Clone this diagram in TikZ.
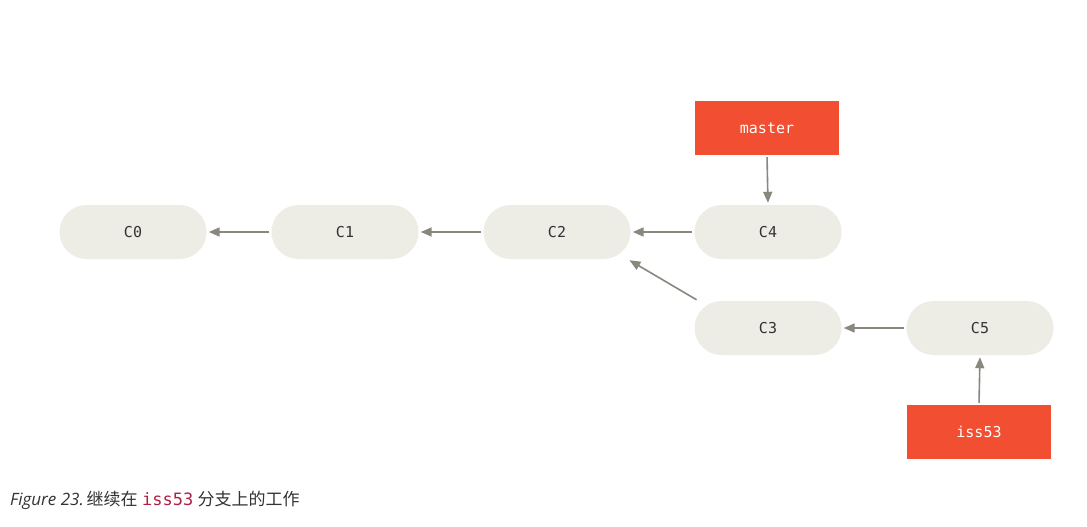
\documentclass[tikz,border=0pt]{standalone}
\usepackage{fontspec}
\setmainfont{Open Sans}
\setmonofont{DejaVu Sans Mono}
\newfontfamily\cjk{Noto Sans CJK SC}
\usetikzlibrary{arrows.meta}
\definecolor{nodefill}{HTML}{EDEDE6}
\definecolor{branchred}{HTML}{F14E32}
\definecolor{arrowgrey}{HTML}{8A877E}
\definecolor{codered}{HTML}{B12146}
\begin{document}
\begin{tikzpicture}[x=1pt,y=-1pt,
  commit/.style={fill=nodefill,rounded corners=27pt,minimum width=147pt,minimum height=54pt,inner sep=0pt,font=\ttfamily\fontsize{15}{18}\selectfont,text=black!80},
  branch/.style={fill=branchred,minimum width=144pt,minimum height=54pt,inner sep=0pt,font=\ttfamily\fontsize{15}{18}\selectfont,text=white},
  link/.style={draw=arrowgrey,line width=1.6pt,-{Triangle[length=11pt,width=9pt]},shorten >=2pt,shorten <=2pt}]
\useasboundingbox[fill=white] (0,0) rectangle (1087,527);
\node[commit] (c0) at (133,232) {C0};
\node[commit] (c1) at (345,232) {C1};
\node[commit] (c2) at (557,232) {C2};
\node[commit] (c4) at (768,232) {C4};
\node[commit] (c3) at (768,328) {C3};
\node[commit] (c5) at (980,328) {C5};
\node[branch] (master) at (767,128) {master};
\node[branch] (iss) at (979,432) {iss53};
\draw[link] (c1.west) -- (c0.east);
\draw[link] (c2.west) -- (c1.east);
\draw[link] (c4.west) -- (c2.east);
\draw[link] (c5.west) -- (c3.east);
\draw[link] ([xshift=4pt]c3.north west) -- ([xshift=-3pt]c2.south east);
\draw[link] (master.south) -- (c4.north);
\draw[link] (iss.north) -- (c5.south);
\node[anchor=west,inner sep=0pt,font=\fontsize{17}{20}\selectfont,text=black!80] (cap) at (10,500)
  {\textit{Figure 23.}\,{\cjk 继续在} {\ttfamily\color{codered}iss53} {\cjk 分支上的工作}};
\end{tikzpicture}
\end{document}
